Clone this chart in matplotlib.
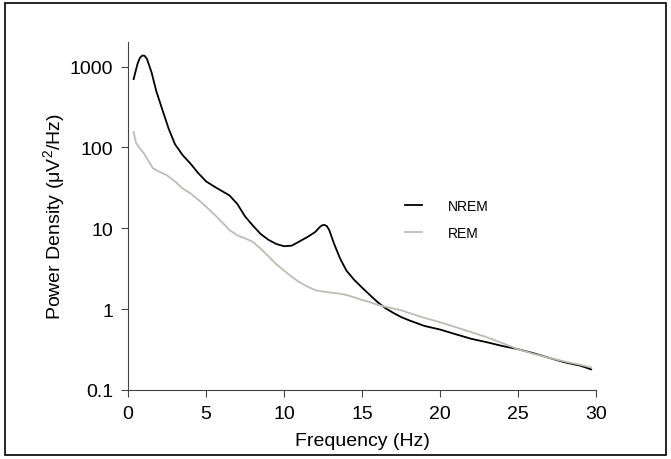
import matplotlib
matplotlib.use("Agg")
import matplotlib.pyplot as plt
from matplotlib.patches import Rectangle

plt.rcParams["font.family"] = ["Liberation Sans", "DejaVu Sans"]
plt.rcParams["mathtext.fontset"] = "custom"
plt.rcParams["mathtext.rm"] = "Liberation Sans"
plt.rcParams["mathtext.it"] = "Liberation Sans"

nrem_freq = [0.35, 0.6, 0.75, 0.9, 1.05, 1.2, 1.5, 1.8, 2.2, 2.6, 3.0, 3.5,
             4.0, 4.5, 5.0, 5.5, 6.0, 6.5, 7.0, 7.5, 8.0, 8.5, 9.0, 9.5,
             10.0, 10.5, 11.0, 11.5, 12.0, 12.3, 12.45, 12.6, 12.75, 12.9,
             13.2, 13.6, 14.0, 14.5, 15.0, 15.5, 16.0, 16.5, 17.0, 17.5, 18.0,
             19.0, 20.0, 21.0, 22.0, 23.0, 24.0, 25.0, 26.0, 27.0, 28.0, 29.0,
             29.7]
nrem_power = [700, 1080, 1280, 1370, 1360, 1250, 850, 500, 290, 170, 110, 80,
              63, 48, 38, 33, 29, 25.5, 20, 14, 10.8, 8.5, 7.2, 6.4,
              6.0, 6.1, 6.9, 7.8, 9.0, 10.4, 10.9, 11.0, 10.6, 9.5,
              6.5, 4.2, 3.0, 2.3, 1.85, 1.5, 1.22, 1.03, 0.9, 0.8, 0.73,
              0.62, 0.56, 0.49, 0.43, 0.39, 0.35, 0.32, 0.285, 0.25, 0.22, 0.2,
              0.18]

rem_freq = [0.35, 0.5, 0.7, 1.0, 1.3, 1.6, 2.0, 2.5, 3.0, 3.5, 4.0, 4.5, 5.0,
            5.5, 6.0, 6.5, 7.0, 7.5, 8.0, 8.5, 9.0, 9.5, 10.0, 10.5, 11.0,
            11.5, 12.0, 12.5, 13.0, 13.5, 14.0, 14.5, 15.0, 15.5, 16.0, 16.5,
            17.0, 17.5, 18.0, 19.0, 20.0, 21.0, 22.0, 23.0, 24.0, 25.0, 26.0,
            27.0, 28.0, 29.0, 29.7]
rem_power = [155, 115, 100, 85, 68, 55, 50, 45, 38, 31, 27, 22.5, 18.5,
             15, 12, 9.5, 8.2, 7.5, 6.8, 5.6, 4.5, 3.6, 3.0, 2.5, 2.15,
             1.9, 1.72, 1.65, 1.6, 1.56, 1.5, 1.4, 1.3, 1.22, 1.13, 1.07,
             1.02, 0.97, 0.9, 0.78, 0.69, 0.6, 0.52, 0.45, 0.38, 0.32, 0.28,
             0.25, 0.225, 0.205, 0.19]

x_ticks = [0, 5, 10, 15, 20, 25, 30]
y_ticks = [0.1, 1, 10, 100, 1000]
y_ticklabels = ["0.1", "1", "10", "100", "1000"]

fig = plt.figure(figsize=(6.71, 4.60), dpi=100)
ax = fig.add_axes([0.191, 0.15, 0.697, 0.756])

ax.plot(nrem_freq, nrem_power, color="black", lw=1.3, label="NREM")
ax.plot(rem_freq, rem_power, color="#bdbdb5", lw=1.3, label="REM")

ax.set_yscale("log")
ax.set_xlim(0, 30)
ax.set_ylim(0.1, 2000)
ax.set_xticks(x_ticks)
ax.set_yticks(y_ticks)
ax.set_yticklabels(y_ticklabels)
ax.minorticks_off()
ax.tick_params(labelsize=14, length=5, width=0.8, color="#444444", pad=6)

for side in ["top", "right"]:
    ax.spines[side].set_visible(False)
for side in ["left", "bottom"]:
    ax.spines[side].set_color("#444444")
    ax.spines[side].set_linewidth(0.8)

ax.set_xlabel("Frequency (Hz)", fontsize=14)
ax.set_ylabel(r"Power Density ($\mu$V$^{2}$/Hz)", fontsize=14)
ax.xaxis.set_label_coords(0.5, -0.12)
ax.yaxis.set_label_coords(-0.13, 0.5)

ax.legend(loc="center left", bbox_to_anchor=(0.565, 0.49), frameon=False,
          fontsize=10, handlelength=1.2, handletextpad=1.9, labelspacing=0.9)

fig.patches.append(Rectangle((0.007, 0.008), 0.986, 0.983,
                             transform=fig.transFigure, fill=False,
                             edgecolor="black", lw=1.2))

fig.savefig("out.png", dpi=100)
